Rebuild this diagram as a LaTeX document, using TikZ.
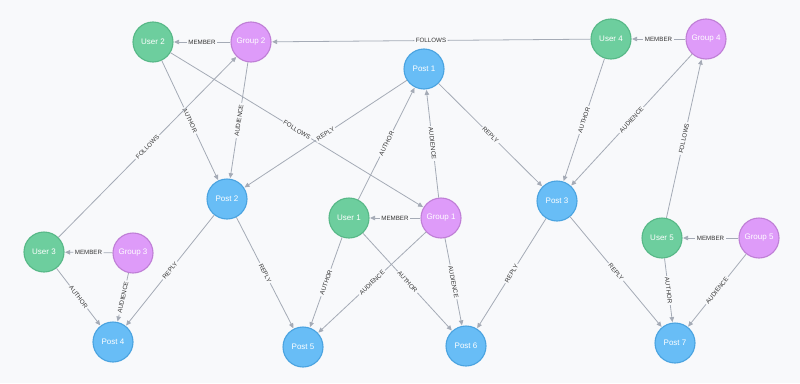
\documentclass[tikz,border=0pt]{standalone}
\usepackage{fontspec}
\setmainfont{Liberation Sans}
\usetikzlibrary{arrows.meta}
\definecolor{bgc}{HTML}{F8F9FB}
\definecolor{userfill}{HTML}{6DCE9E}
\definecolor{userdraw}{HTML}{57B887}
\definecolor{groupfill}{HTML}{DE9BF9}
\definecolor{groupdraw}{HTML}{BF7FD6}
\definecolor{postfill}{HTML}{68BDF6}
\definecolor{postdraw}{HTML}{4AA3E0}
\definecolor{edgec}{HTML}{A5ABB6}
\definecolor{lblc}{HTML}{333333}
\tikzset{
  gnode/.style={circle, minimum size=40pt, inner sep=0pt, line width=1.1pt, text=white, font=\fontsize{8}{9}\selectfont},
  usernode/.style={gnode, fill=userfill, draw=userdraw},
  groupnode/.style={gnode, fill=groupfill, draw=groupdraw},
  postnode/.style={gnode, fill=postfill, draw=postdraw},
  edge/.style={draw=edgec, line width=0.8pt, -{Triangle[length=5pt,width=4.5pt]}, shorten >=0.5pt},
  lbl/.style={midway, sloped, fill=bgc, inner sep=1.5pt, text=lblc, font=\fontsize{6.2}{7}\selectfont}
}
\begin{document}
\begin{tikzpicture}[x=1pt,y=-1pt]
\fill[bgc] (0,0) rectangle (800,383);
\useasboundingbox (0,0) rectangle (800,383);

\node[usernode]  (u2) at (153,42)  {User 2};
\node[groupnode] (g2) at (251,42)  {Group 2};
\node[postnode]  (p1) at (424,69)  {Post 1};
\node[usernode]  (u4) at (611,39)  {User 4};
\node[groupnode] (g4) at (706,39)  {Group 4};
\node[postnode]  (p2) at (227,199) {Post 2};
\node[usernode]  (u1) at (349,218) {User 1};
\node[groupnode] (g1) at (441,218) {Group 1};
\node[postnode]  (p3) at (557,201) {Post 3};
\node[usernode]  (u3) at (44,252)  {User 3};
\node[groupnode] (g3) at (133,253) {Group 3};
\node[usernode]  (u5) at (662,238) {User 5};
\node[groupnode] (g5) at (759,238) {Group 5};
\node[postnode]  (p4) at (113,342) {Post 4};
\node[postnode]  (p5) at (303,347) {Post 5};
\node[postnode]  (p6) at (466,346) {Post 6};
\node[postnode]  (p7) at (675,343) {Post 7};

\draw[edge] (g2) -- node[lbl]{MEMBER} (u2);
\draw[edge] (u4) -- node[lbl]{FOLLOWS} (g2);
\draw[edge] (g4) -- node[lbl]{MEMBER} (u4);
\draw[edge] (u2) -- node[lbl]{AUTHOR} (p2);
\draw[edge] (g2) -- node[lbl]{AUDIENCE} (p2);
\draw[edge] (u2) -- node[lbl]{FOLLOWS} (g1);
\draw[edge] (p1) -- node[lbl]{REPLY} (p2);
\draw[edge] (u3) -- node[lbl]{FOLLOWS} (g2);
\draw[edge] (u1) -- node[lbl]{AUTHOR} (p1);
\draw[edge] (g1) -- node[lbl]{AUDIENCE} (p1);
\draw[edge] (p1) -- node[lbl]{REPLY} (p3);
\draw[edge] (u4) -- node[lbl]{AUTHOR} (p3);
\draw[edge] (g4) -- node[lbl]{AUDIENCE} (p3);
\draw[edge] (u5) -- node[lbl]{FOLLOWS} (g4);
\draw[edge] (g1) -- node[lbl]{MEMBER} (u1);
\draw[edge] (g3) -- node[lbl]{MEMBER} (u3);
\draw[edge] (g5) -- node[lbl]{MEMBER} (u5);
\draw[edge] (u3) -- node[lbl]{AUTHOR} (p4);
\draw[edge] (g3) -- node[lbl]{AUDIENCE} (p4);
\draw[edge] (p2) -- node[lbl]{REPLY} (p4);
\draw[edge] (p2) -- node[lbl]{REPLY} (p5);
\draw[edge] (u1) -- node[lbl]{AUTHOR} (p5);
\draw[edge] (g1) -- node[lbl]{AUDIENCE} (p5);
\draw[edge] (u1) -- node[lbl]{AUTHOR} (p6);
\draw[edge] (g1) -- node[lbl]{AUDIENCE} (p6);
\draw[edge] (p3) -- node[lbl]{REPLY} (p6);
\draw[edge] (p3) -- node[lbl]{REPLY} (p7);
\draw[edge] (u5) -- node[lbl]{AUTHOR} (p7);
\draw[edge] (g5) -- node[lbl]{AUDIENCE} (p7);
\end{tikzpicture}
\end{document}
